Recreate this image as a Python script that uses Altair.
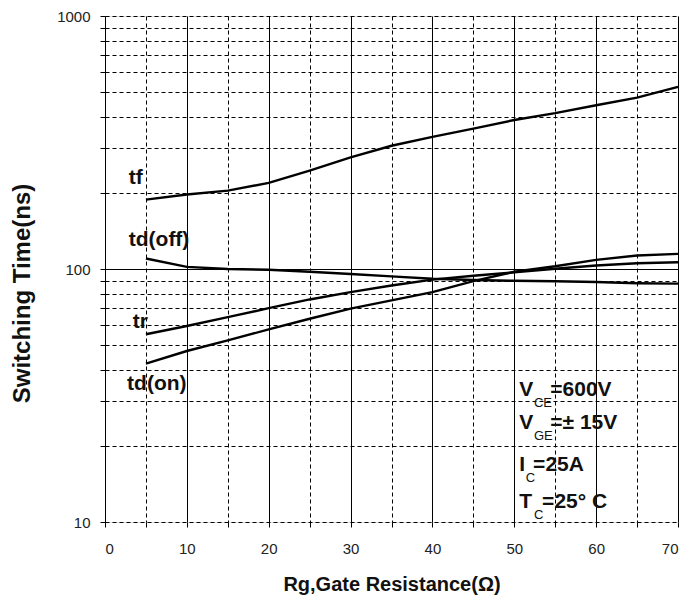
import altair as alt
import pandas as pd

# ---- data ----
rg = [5, 10, 15, 20, 25, 30, 35, 40, 45, 50, 55, 60, 65, 70]
tf = [188, 197, 204, 219, 245, 276, 307, 333, 359, 388, 413, 444, 476, 525]
td_off = [110, 102, 100, 99.3, 97.5, 95.5, 93.5, 91.5, 90.5, 89.8, 89.5, 88.8, 87.8, 87.5]
tr = [55.2, 59.5, 64.5, 70.0, 75.8, 81.0, 86.1, 90.8, 94.0, 97.0, 100.2, 103.2, 105.4, 106.4]
td_on = [42.3, 47.4, 52.2, 57.7, 63.6, 69.7, 75.2, 81.0, 89.5, 97.5, 102.5, 108.7, 113.0, 114.8]

x_ticks = [0, 5, 10, 15, 20, 25, 30, 35, 40, 45, 50, 55, 60, 65, 70]
y_ticks = [10, 20, 30, 40, 50, 60, 70, 80, 90, 100, 200, 300, 400, 500, 600, 700, 800, 900, 1000]

curve_names = ["tf", "td(off)", "tr", "td(on)"]
label_x = [2.9, 2.9, 3.4, 2.7]
label_y = [229, 130, 61.5, 35]

ann_main_text = ["V", "=600V", "V", "=± 15V", "I", "=25A", "T", "=25°  C"]
ann_main_x = [50.6, 54.4, 50.6, 54.4, 50.6, 52.3, 50.6, 53.4]
ann_main_y = [33.2, 33.2, 24.6, 24.6, 16.8, 16.8, 12.0, 12.0]
ann_sub_text = ["CE", "GE", "C", "C"]
ann_sub_x = [52.4, 52.4, 51.4, 52.4]
ann_sub_y = [29.5, 21.8, 14.9, 10.65]

FONT = "Liberation Sans, Arial"

rows = []
for name, vals in zip(curve_names, [tf, td_off, tr, td_on]):
    for x, v in zip(rg, vals):
        rows.append({"x": x, "y": v, "curve": name})
df = pd.DataFrame(rows)

lab = pd.DataFrame({"x": label_x, "y": label_y, "t": curve_names})
ann = pd.DataFrame({"x": ann_main_x, "y": ann_main_y, "t": ann_main_text})
sub = pd.DataFrame({"x": ann_sub_x, "y": ann_sub_y, "t": ann_sub_text})

xscale = alt.Scale(domain=[0, 70], nice=False, zero=False)
yscale = alt.Scale(type="log", domain=[10, 1000], nice=False)

xaxis = alt.Axis(
    values=x_ticks,
    labelExpr="datum.value % 10 == 0 ? datum.label : ''",
    title="Rg,Gate Resistance(Ω)",
    grid=True,
    gridColor="black",
    gridOpacity=1,
    gridWidth=1,
    gridDash={"condition": {"test": "datum.value % 10 == 0", "value": []}, "value": [4, 3]},
    domain=False,
    tickColor="black",
    tickSize=5,
    labelFont=FONT,
    labelFontSize=15,
    labelColor="#222",
    labelPadding=14,
    titleFont=FONT,
    titleFontSize=20,
    titleFontWeight="bold",
    titleColor="#111",
    titlePadding=18,
)
yaxis = alt.Axis(
    values=y_ticks,
    labelExpr="(datum.value == 10 || datum.value == 100 || datum.value == 1000) ? '' + datum.value : ''",
    title="Switching Time(ns)",
    grid=True,
    gridColor="black",
    gridOpacity=1,
    gridWidth=1,
    gridDash={"condition": {"test": "datum.value == 100", "value": []}, "value": [4, 3]},
    domain=False,
    tickColor="black",
    tickSize=5,
    labelFont=FONT,
    labelFontSize=15,
    labelColor="#222",
    labelPadding=10,
    titleFont=FONT,
    titleFontSize=24,
    titleFontWeight="bold",
    titleColor="#111",
    titlePadding=22,
    titleY=277,
)

lines = alt.Chart(df).mark_line(color="black", strokeWidth=2.4).encode(
    x=alt.X("x:Q", scale=xscale, axis=xaxis),
    y=alt.Y("y:Q", scale=yscale, axis=yaxis),
    detail="curve:N",
)

labels = alt.Chart(lab).mark_text(
    align="left", baseline="middle", font=FONT, fontSize=21, fontWeight="bold", color="#111"
).encode(x=alt.X("x:Q", scale=xscale), y=alt.Y("y:Q", scale=yscale), text="t:N")

ann_l = alt.Chart(ann).mark_text(
    align="left", baseline="middle", font=FONT, fontSize=21, fontWeight="bold", color="#111"
).encode(x=alt.X("x:Q", scale=xscale), y=alt.Y("y:Q", scale=yscale), text="t:N")

sub_l = alt.Chart(sub).mark_text(
    align="left", baseline="middle", font=FONT, fontSize=13, fontWeight="normal", color="#111"
).encode(x=alt.X("x:Q", scale=xscale), y=alt.Y("y:Q", scale=yscale), text="t:N")

chart = alt.layer(lines, labels, ann_l, sub_l).properties(
    width=573,
    height=506,
    autosize=alt.AutoSizeParams(type="none"),
    padding={"left": 97, "top": 8, "right": 3, "bottom": 78},
).configure_view(stroke="black", strokeWidth=2.5).configure(background="white")

chart.save("out.html", embed_options={"renderer": "svg", "actions": False})
